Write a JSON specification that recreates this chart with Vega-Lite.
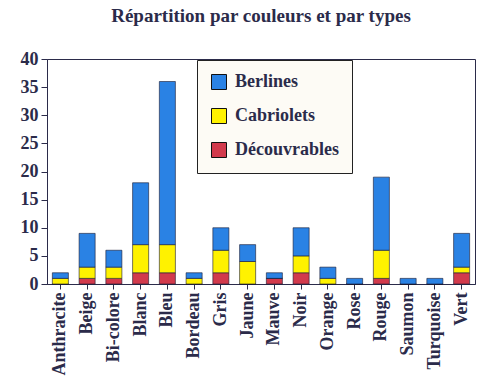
{
  "$schema": "https://vega.github.io/schema/vega-lite/v6.json",
  "width": 428,
  "height": 225,
  "autosize": "none",
  "padding": {"left": 47, "top": 59, "right": 25, "bottom": 96},
  "background": "white",
  "title": {
    "text": "Répartition par couleurs et par types",
    "font": "Liberation Serif",
    "fontSize": 19,
    "fontWeight": "bold",
    "color": "#2b2b4a",
    "offset": 24
  },
  "data": {
    "values": [
      {"couleur": "Anthracite", "type": "Découvrables", "n": 0},
      {"couleur": "Anthracite", "type": "Cabriolets", "n": 1},
      {"couleur": "Anthracite", "type": "Berlines", "n": 1},
      {"couleur": "Beige", "type": "Découvrables", "n": 1},
      {"couleur": "Beige", "type": "Cabriolets", "n": 2},
      {"couleur": "Beige", "type": "Berlines", "n": 6},
      {"couleur": "Bi-colore", "type": "Découvrables", "n": 1},
      {"couleur": "Bi-colore", "type": "Cabriolets", "n": 2},
      {"couleur": "Bi-colore", "type": "Berlines", "n": 3},
      {"couleur": "Blanc", "type": "Découvrables", "n": 2},
      {"couleur": "Blanc", "type": "Cabriolets", "n": 5},
      {"couleur": "Blanc", "type": "Berlines", "n": 11},
      {"couleur": "Bleu", "type": "Découvrables", "n": 2},
      {"couleur": "Bleu", "type": "Cabriolets", "n": 5},
      {"couleur": "Bleu", "type": "Berlines", "n": 29},
      {"couleur": "Bordeau", "type": "Découvrables", "n": 0},
      {"couleur": "Bordeau", "type": "Cabriolets", "n": 1},
      {"couleur": "Bordeau", "type": "Berlines", "n": 1},
      {"couleur": "Gris", "type": "Découvrables", "n": 2},
      {"couleur": "Gris", "type": "Cabriolets", "n": 4},
      {"couleur": "Gris", "type": "Berlines", "n": 4},
      {"couleur": "Jaune", "type": "Découvrables", "n": 0},
      {"couleur": "Jaune", "type": "Cabriolets", "n": 4},
      {"couleur": "Jaune", "type": "Berlines", "n": 3},
      {"couleur": "Mauve", "type": "Découvrables", "n": 1},
      {"couleur": "Mauve", "type": "Cabriolets", "n": 0},
      {"couleur": "Mauve", "type": "Berlines", "n": 1},
      {"couleur": "Noir", "type": "Découvrables", "n": 2},
      {"couleur": "Noir", "type": "Cabriolets", "n": 3},
      {"couleur": "Noir", "type": "Berlines", "n": 5},
      {"couleur": "Orange", "type": "Découvrables", "n": 0},
      {"couleur": "Orange", "type": "Cabriolets", "n": 1},
      {"couleur": "Orange", "type": "Berlines", "n": 2},
      {"couleur": "Rose", "type": "Découvrables", "n": 0},
      {"couleur": "Rose", "type": "Cabriolets", "n": 0},
      {"couleur": "Rose", "type": "Berlines", "n": 1},
      {"couleur": "Rouge", "type": "Découvrables", "n": 1},
      {"couleur": "Rouge", "type": "Cabriolets", "n": 5},
      {"couleur": "Rouge", "type": "Berlines", "n": 13},
      {"couleur": "Saumon", "type": "Découvrables", "n": 0},
      {"couleur": "Saumon", "type": "Cabriolets", "n": 0},
      {"couleur": "Saumon", "type": "Berlines", "n": 1},
      {"couleur": "Turquoise", "type": "Découvrables", "n": 0},
      {"couleur": "Turquoise", "type": "Cabriolets", "n": 0},
      {"couleur": "Turquoise", "type": "Berlines", "n": 1},
      {"couleur": "Vert", "type": "Découvrables", "n": 2},
      {"couleur": "Vert", "type": "Cabriolets", "n": 1},
      {"couleur": "Vert", "type": "Berlines", "n": 6}
    ]
  },
  "transform": [
    {"calculate": "datum.type === 'Découvrables' ? 0 : datum.type === 'Cabriolets' ? 1 : 2", "as": "ordre"}
  ],
  "mark": {"type": "bar", "stroke": "#1a1a30", "strokeWidth": 0.6},
  "encoding": {
    "x": {
      "field": "couleur",
      "type": "nominal",
      "sort": null,
      "scale": {"paddingInner": 0.4, "paddingOuter": 0.2},
      "axis": {
        "title": null,
        "labelAngle": -90,
        "labelFont": "Liberation Serif",
        "labelFontSize": 18,
        "labelFontWeight": "bold",
        "labelColor": "#2b2b4a",
        "domainColor": "#2b2b4a",
        "tickColor": "#2b2b4a",
        "labelPadding": 3
      }
    },
    "y": {
      "field": "n",
      "type": "quantitative",
      "stack": "zero",
      "scale": {"domain": [0, 40]},
      "axis": {
        "title": null,
        "values": [0, 5, 10, 15, 20, 25, 30, 35, 40],
        "grid": false,
        "labelFont": "Liberation Serif",
        "labelFontSize": 18,
        "labelFontWeight": "bold",
        "labelColor": "#2b2b4a",
        "domainColor": "#2b2b4a",
        "tickColor": "#2b2b4a",
        "tickSize": 6,
        "labelPadding": 3
      }
    },
    "color": {
      "field": "type",
      "type": "nominal",
      "scale": {
        "domain": ["Berlines", "Cabriolets", "Découvrables"],
        "range": ["#2a82e4", "#fff200", "#d23a4c"]
      },
      "legend": {
        "title": null,
        "orient": "none",
        "legendX": 150,
        "legendY": 1,
        "symbolType": "square",
        "symbolSize": 225,
        "symbolStrokeColor": "#111",
        "symbolStrokeWidth": 1,
        "labelFont": "Liberation Serif",
        "labelFontSize": 18,
        "labelFontWeight": "bold",
        "labelColor": "#2b2b4a",
        "rowPadding": 14,
        "padding": 13,
        "labelOffset": 7,
        "strokeColor": "#222",
        "fillColor": "#fdfbf5"
      }
    },
    "order": {"field": "ordre", "type": "quantitative"}
  },
  "config": {
    "view": {"stroke": "#2b2b4a", "strokeWidth": 1}
  }
}
